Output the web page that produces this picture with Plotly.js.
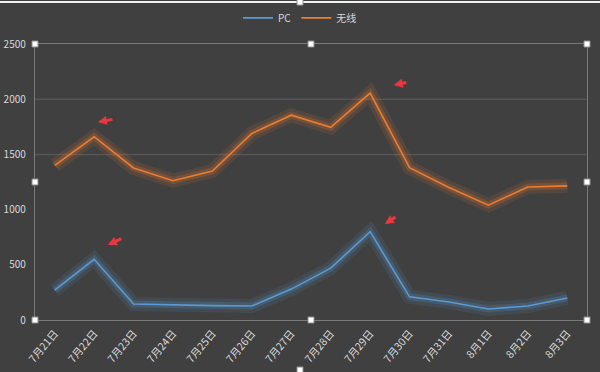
<!DOCTYPE html>
<html><head><meta charset="utf-8">
<script src="https://cdn.plot.ly/plotly-3.0.1.min.js"></script>
<style>html,body{margin:0;padding:0;background:#404040;}#c{width:600px;height:372px;}</style>
</head><body><div id="c"></div>
<script>
const dates = ['7月21日','7月22日','7月23日','7月24日','7月25日','7月26日','7月27日','7月28日','7月29日','7月30日','7月31日','8月1日','8月2日','8月3日'];
const pcValues = [270, 550, 145, 136, 130, 127, 280, 470, 800, 210, 163, 100, 127, 200];
const wirelessValues = [1400, 1660, 1377, 1262, 1350, 1690, 1855, 1745, 2055, 1380, 1200, 1040, 1205, 1215];
const seriesNames = ['PC', '无线'];
const yTicks = [0, 500, 1000, 1500, 2000, 2500];
const gridVals = [1500, 2000];

const blue = '#5b9bd5', orange = '#ed7d31';
function glow(y, color, w, op) {
  return {x: dates, y: y, type: 'scatter', mode: 'lines', showlegend: false, hoverinfo: 'skip',
    line: {color: color, width: w}, opacity: op};
}
const traces = [
  glow(pcValues, blue, 14, 0.12), glow(wirelessValues, orange, 14, 0.12),
  glow(pcValues, blue, 7, 0.2), glow(wirelessValues, orange, 7, 0.2),
  {x: dates, y: pcValues, name: seriesNames[0], type: 'scatter', mode: 'lines', line: {color: blue, width: 1.6}},
  {x: dates, y: wirelessValues, name: seriesNames[1], type: 'scatter', mode: 'lines', line: {color: orange, width: 1.6}}
];

const shapes = gridVals.map(v => ({type: 'line', xref: 'paper', yref: 'y', x0: 0, x1: 1, y0: v, y1: v,
  line: {color: '#555555', width: 1.5}, layer: 'below'}));
shapes.push({type: 'line', xref: 'paper', yref: 'paper', x0: -0.08, x1: 1.03, y0: 1.152, y1: 1.152, line: {color: '#f2f2f2', width: 2}});
function handle(px, py) {
  return {type: 'rect', xref: 'paper', yref: 'paper', x0: px - 3/552, x1: px + 3/552, y0: py - 3/276, y1: py + 3/276,
    fillcolor: '#ffffff', line: {color: '#8c8c8c', width: 1}};
}
[[0,1],[0.5,1],[1,1],[0,0.5],[1,0.5],[0,0],[0.5,0],[1,0]].forEach(p => shapes.push(handle(p[0], p[1])));
shapes.push(handle(265/552, 1.152));
shapes.push(handle(265/552, -50/276));

const arrow = (x, y, ax, ay) => ({xref: 'paper', yref: 'paper', x: x, y: y, ax: ax, ay: ay, text: '',
  showarrow: true, arrowcolor: '#e8383d', arrowwidth: 3, arrowhead: 2, arrowsize: 0.6});
const annotations = [
  arrow(0.114, 0.717, 16, -3),
  arrow(0.132, 0.272, 15, -7),
  arrow(0.650, 0.851, 14, -3),
  arrow(0.634, 0.348, 12, -8)
];

const layout = {
  width: 600, height: 372,
  paper_bgcolor: '#404040', plot_bgcolor: '#404040',
  margin: {l: 35, r: 13, t: 44, b: 52},
  font: {family: '"Noto Sans CJK SC", "DejaVu Sans", sans-serif', color: '#d9d9d9', size: 10},
  showlegend: true,
  legend: {orientation: 'h', x: 0.5, xanchor: 'center', xref: 'container', y: 0.952, yanchor: 'middle', yref: 'container',
    font: {size: 10, color: '#d9d9d9'}, bgcolor: 'rgba(0,0,0,0)'},
  xaxis: {type: 'category', tickangle: -50, showgrid: false, zeroline: false,
    showline: true, linecolor: '#7a7a7a', linewidth: 1.2, mirror: true, ticks: '',
    tickfont: {size: 10.5, color: '#d9d9d9'}, range: [-0.5, 13.5], ticklabelstandoff: 2},
  yaxis: {range: [0, 2500], tickvals: yTicks, showgrid: false, zeroline: false,
    showline: true, linecolor: '#7a7a7a', linewidth: 1.2, mirror: true, ticks: '',
    tickfont: {size: 10, color: '#d9d9d9'}, ticklabelstandoff: 6},
  shapes: shapes,
  annotations: annotations
};
Plotly.newPlot('c', traces, layout, {staticPlot: true});
</script></body></html>
